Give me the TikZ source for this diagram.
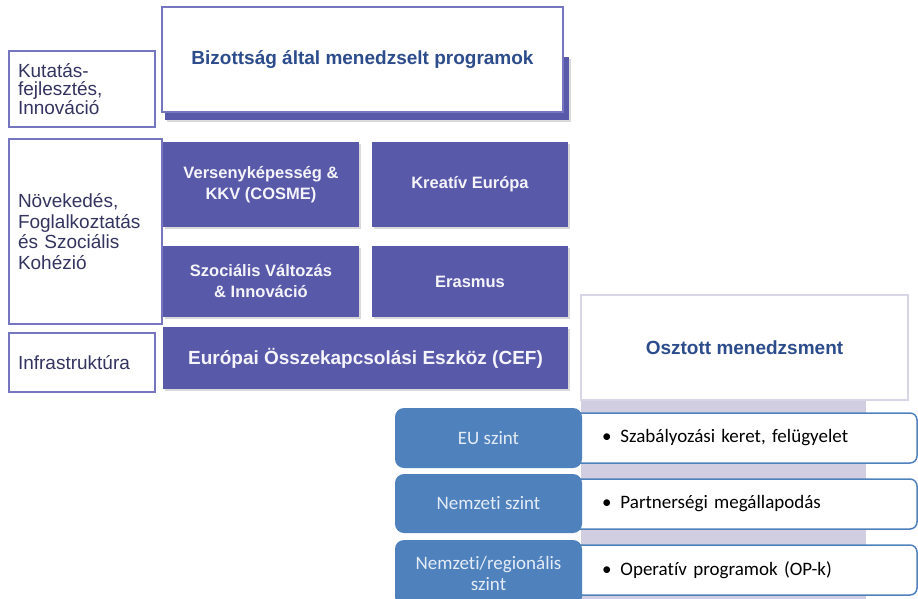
\documentclass[tikz,border=0pt]{standalone}
\usepackage{fontspec}
\setmainfont{Liberation Sans}
\newfontfamily\calibri[Ligatures=NoCommon]{Carlito}
\usetikzlibrary{positioning, shapes, shadows}

\definecolor{progpurple}{RGB}{89,89,170}
\definecolor{progtext}{RGB}{244,244,250}
\definecolor{framepurple}{RGB}{118,118,192}
\definecolor{titleblue}{RGB}{44,76,140}
\definecolor{labeltext}{RGB}{52,52,96}
\definecolor{levelblue}{RGB}{79,129,189}
\definecolor{leveltext}{RGB}{228,236,246}
\definecolor{barlilac}{RGB}{210,206,226}
\definecolor{lightframe}{RGB}{214,214,230}

\begin{document}
\begin{tikzpicture}[
    x=1pt, y=-1pt,
    every node/.style={inner sep=0pt, outer sep=0pt},
    areabox/.style={rectangle, draw=framepurple, line width=1.5pt, fill=white,
        anchor=north west, align=left, text=labeltext, inner xsep=9pt,
        font=\fontsize{19}{20.5}\selectfont},
    progbox/.style={rectangle, fill=progpurple, text=progtext, anchor=north west,
        align=center, font=\bfseries\fontsize{16.5}{21}\selectfont,
        drop shadow={shadow xshift=1.5pt, shadow yshift=-1.5pt, opacity=0.3}},
    headbox/.style={rectangle, fill=white, anchor=north west, align=center,
        text=titleblue, font=\bfseries\fontsize{19}{22}\selectfont},
    levelbox/.style={rectangle, rounded corners=9pt, fill=levelblue, text=leveltext,
        anchor=north west, align=center, minimum width=187pt, minimum height=60pt,
        font=\calibri\fontsize{19}{21}\selectfont},
    rowbox/.style={rectangle, rounded corners=7pt, draw=levelblue, line width=1.5pt,
        fill=white, anchor=north west, align=left, inner xsep=42pt, text width=273pt,
        minimum height=50pt, font=\calibri\fontsize{19}{22}\selectfont}
]
\clip (0,0) rectangle (918,598);

% Policy areas on the left
\node[areabox, text width=128pt, minimum height=76pt,
    font=\fontsize{19}{17.5}\selectfont] (kutatas) at (9,51)
    {Kutatás-\\fejlesztés,\\Innováció};
\node[areabox, text width=135pt, minimum height=185pt] (novekedes) at (9,139)
    {Növekedés,\\Foglalkoztatás\\és Szociális\\Kohézió};
\node[areabox, text width=128pt, minimum height=59pt] (infra) at (9,333)
    {Infrastruktúra};

% Commission managed programmes
\node[progbox, minimum width=404pt, minimum height=63pt] (topback) at (165,57) {};
\node[headbox, draw=framepurple, line width=1.5pt, minimum width=401pt,
    minimum height=105pt] (bizottsag) at (162,7) {Bizottság által menedzselt programok};

\node[progbox, minimum width=196pt, minimum height=85pt] (cosme) at (163,142)
    {Versenyképesség \&\\KKV (COSME)};
\node[progbox, minimum width=196pt, minimum height=85pt, right=13pt of cosme] (kreativ)
    {Kreatív Európa};
\node[progbox, minimum width=196pt, minimum height=71pt] (szocialis) at (163,246)
    {Szociális Változás\\\& Innováció};
\node[progbox, minimum width=196pt, minimum height=71pt, right=13pt of szocialis] (erasmus)
    {Erasmus};
\node[progbox, minimum width=405pt, minimum height=62pt,
    font=\bfseries\fontsize{19}{22}\selectfont] (cef) at (163,327)
    {Európai Összekapcsolási Eszköz (CEF)};

% Shared management
\node[rectangle, fill=barlilac, anchor=north west, minimum width=285pt,
    minimum height=205pt] (lilacbar) at (581,400) {};
\node[headbox, draw=lightframe, line width=1.2pt, minimum width=327pt,
    minimum height=105pt] (osztott) at (581,295) {Osztott menedzsment};

\node[rowbox] (eurow) at (560,413) {\textbullet\hspace{9pt}Szabályozási keret, felügyelet};
\node[rowbox] (nemzrow) at (560,479) {\textbullet\hspace{9pt}Partnerségi megállapodás};
\node[rowbox] (regrow) at (560,545) {\textbullet\hspace{9pt}Operatív programok (OP-k)};

\node[levelbox] (eulevel) at (395,408) {EU szint};
\node[levelbox, minimum height=59pt] (nemzlevel) at (395,474) {Nemzeti szint};
\node[levelbox, minimum height=66pt] (reglevel) at (395,540) {Nemzeti/regionális\\szint};
\end{tikzpicture}
\end{document}
